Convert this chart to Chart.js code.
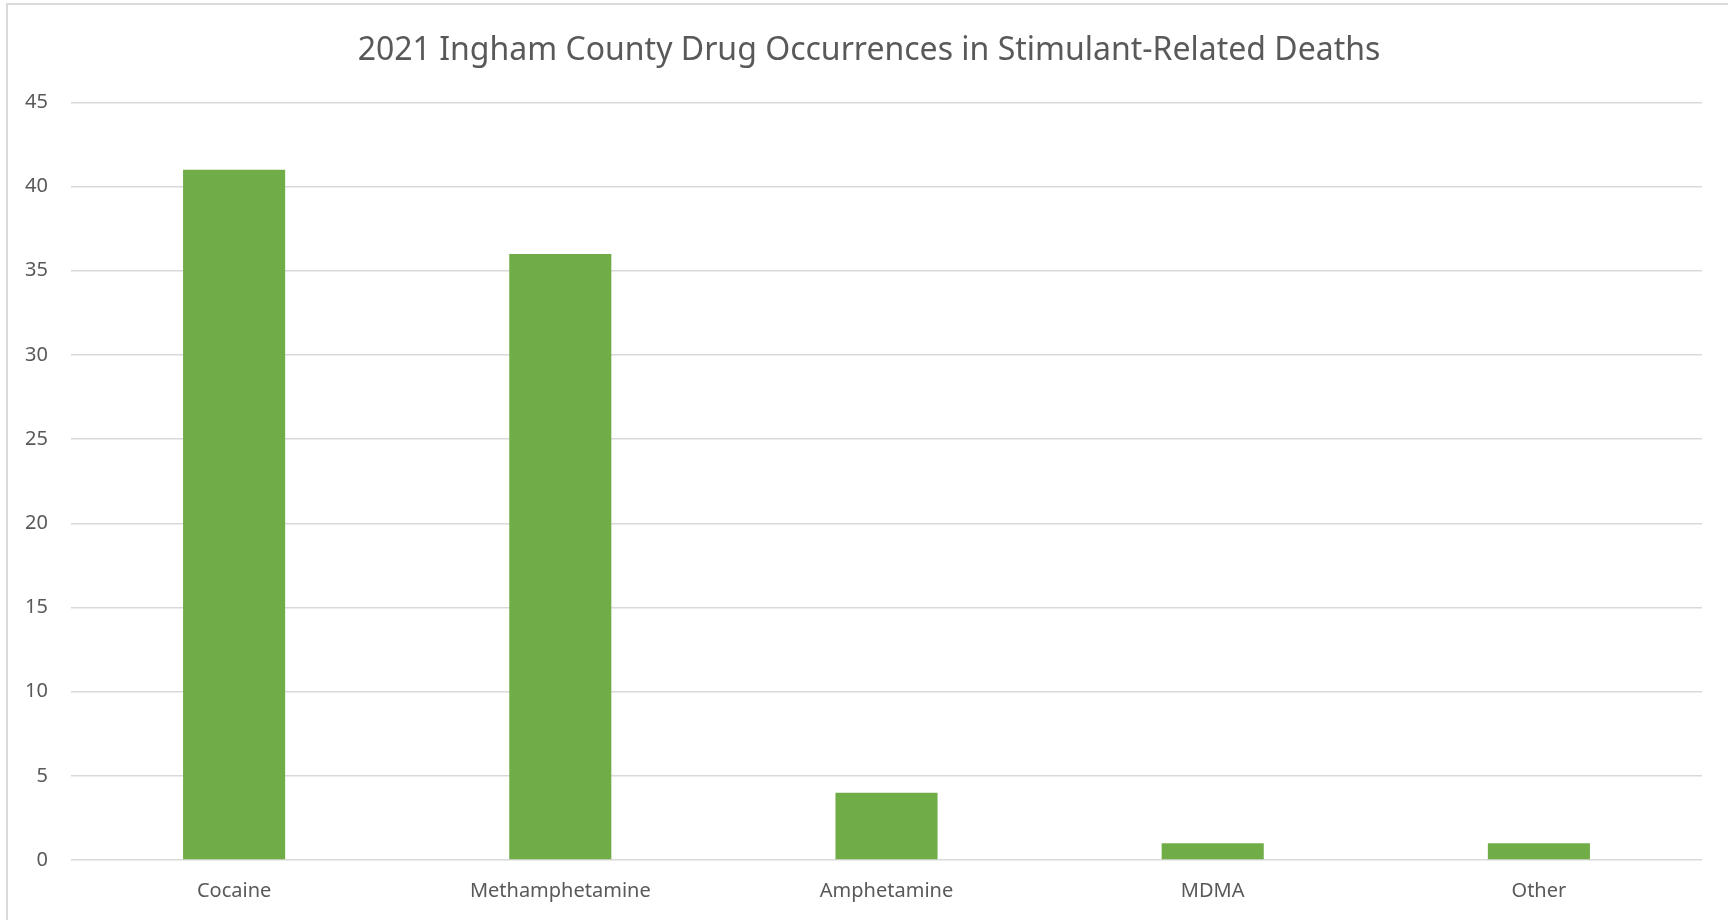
<!DOCTYPE html>
<html>
<head>
<meta charset="utf-8">
<title>2021 Ingham County Drug Occurrences in Stimulant-Related Deaths</title>
<script src="https://cdn.jsdelivr.net/npm/chart.js@4/dist/chart.umd.min.js"></script>
<style>
  html, body { margin: 0; padding: 0; background: #fff; overflow: hidden; }
  #frame {
    position: absolute; left: 6px; top: 3px; width: 1800px; height: 1000px;
    border-left: 2px solid #d9d9d9; border-top: 2px solid #d9d9d9;
  }
  #wrap { position: absolute; left: 10px; top: 0; width: 1718px; height: 920px; }
</style>
</head>
<body>
<div id="frame"></div>
<div id="wrap"><canvas id="chart"></canvas></div>
<script>
const categories = ['Cocaine', 'Methamphetamine', 'Amphetamine', 'MDMA', 'Other'];
const occurrences = [41, 36, 4, 1, 1];
const yTicks = [0, 5, 10, 15, 20, 25, 30, 35, 40, 45];

const textColor = '#595959';
const gridColor = '#d9d9d9';

const ctx = document.getElementById('chart').getContext('2d');
const chart = new Chart(ctx, {
    type: 'bar',
    data: {
        labels: categories,
        datasets: [
            {
                label: 'Occurrences',
                data: occurrences,
                backgroundColor: '#70ad47',
                borderWidth: 0,
                barPercentage: 1,
                categoryPercentage: 0.313
            }
        ]
    },
    options: {
        responsive: true,
        maintainAspectRatio: false,
        animation: false,
        layout: { padding: 0 },
        plugins: {
            legend: { display: false },
            tooltip: { enabled: false },
            title: {
                display: true,
                text: '2021 Ingham County Drug Occurrences in Stimulant-Related Deaths',
                color: textColor,
                font: { family: 'Noto Sans', size: 32, weight: 'normal' },
                padding: { top: 32, bottom: 32 }
            }
        },
        scales: {
            x: {
                grid: { display: false },
                border: { display: false },
                ticks: {
                    color: textColor,
                    font: { family: 'Noto Sans', size: 20 },
                    padding: 11
                },
                afterFit: (scale) => { scale.height = 60; }
            },
            y: {
                min: 0,
                max: 45,
                afterBuildTicks: (scale) => {
                    scale.ticks = yTicks.map(v => ({ value: v }));
                },
                grid: { color: gridColor, lineWidth: 1.5, drawTicks: false },
                border: { display: false },
                ticks: {
                    color: textColor,
                    font: { family: 'Noto Sans', size: 20 },
                    padding: 23
                },
                afterFit: (scale) => { scale.width = 61; }
            },
            // empty right margin so the title stays centred on the frame
            yRight: {
                position: 'right',
                grid: { display: false },
                border: { display: false },
                ticks: { display: false },
                afterFit: (scale) => { scale.width = 26; }
            }
        }
    }
});
</script>
</body>
</html>
